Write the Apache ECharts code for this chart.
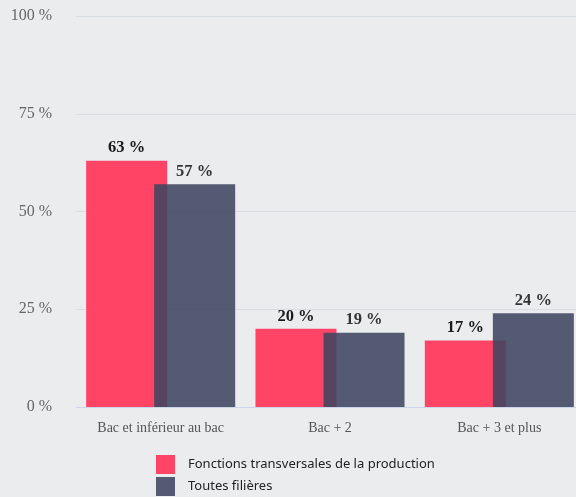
<!DOCTYPE html>
<html><head><meta charset="utf-8">
<script src="https://cdn.jsdelivr.net/npm/echarts@6/dist/echarts.min.js"></script>
<style>html,body{margin:0;padding:0;background:#ebecee;}#c{width:576px;height:497px;}</style>
</head><body><div id="c"></div>
<script>
const categories = ['Bac et inférieur au bac', 'Bac + 2', 'Bac + 3 et plus'];
const seriesNames = ['Fonctions transversales de la production', 'Toutes filières'];
const fonctions = [63, 20, 17];
const toutes = [57, 19, 24];
const yTicks = [0, 25, 50, 75, 100];

const chart = echarts.init(document.getElementById('c'), null, {renderer: 'canvas'});
const labelStyle = {show: true, position: 'top', distance: 4, formatter: '{c} %', fontFamily: 'Liberation Serif', fontWeight: 'bold', fontSize: 16.5, color: '#1a1a1a'};
const legendBase = {orient: 'vertical', left: 151, itemWidth: 19, itemHeight: 19, icon: 'rect',
  textStyle: {fontFamily: 'Noto Sans', fontSize: 13, color: '#222', padding: [0, 0, 0, 8]}};
chart.setOption({
  backgroundColor: '#ebecee',
  animation: false,
  grid: {left: 76, right: -8, top: 16, bottom: 90, containLabel: false, outerBoundsMode: 'none'},
  xAxis: {
    type: 'category', data: categories,
    axisLine: {lineStyle: {color: '#ccd6eb'}},
    axisTick: {show: false},
    axisLabel: {fontFamily: 'Liberation Serif', fontSize: 14, color: '#555', margin: 14}
  },
  yAxis: {
    type: 'value', min: yTicks[0], max: yTicks[yTicks.length - 1], interval: 25,
    axisLabel: {formatter: '{value} %', fontFamily: 'Liberation Serif', fontSize: 16, color: '#666', margin: 24},
    splitLine: {lineStyle: {color: '#d6dde3'}},
    axisLine: {show: false}, axisTick: {show: false}
  },
  legend: [
    Object.assign({}, legendBase, {top: 450, data: [seriesNames[0]]}),
    Object.assign({}, legendBase, {top: 472, data: [seriesNames[1]]})
  ],
  series: [
    {name: seriesNames[0], type: 'bar', data: fonctions, barWidth: 81, barGap: '-16%',
     itemStyle: {color: '#ff4466'}, label: labelStyle},
    {name: seriesNames[1], type: 'bar', data: toutes, barWidth: 81,
     itemStyle: {color: '#3f4560', opacity: 0.88}, label: labelStyle}
  ]
});
</script></body></html>
